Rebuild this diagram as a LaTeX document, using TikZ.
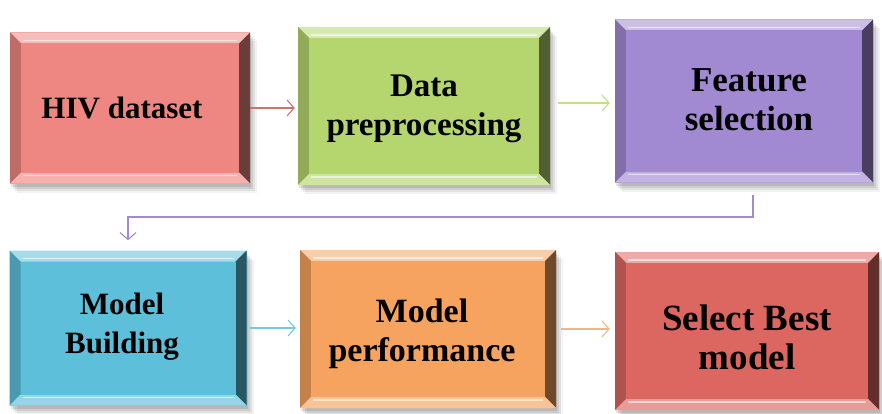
\documentclass[tikz,border=0pt]{standalone}
\usepackage{fontspec}
\setmainfont{Liberation Serif}
\usetikzlibrary{arrows.meta,calc}

\definecolor{hivred}{HTML}{EE8782}
\definecolor{prepgreen}{HTML}{B5D66E}
\definecolor{featpurple}{HTML}{A28AD2}
\definecolor{buildcyan}{HTML}{5DBFD9}
\definecolor{perforange}{HTML}{F5A35E}
\definecolor{bestred}{HTML}{DC6660}

\tikzset{
  boxtext/.style={align=center, inner sep=0pt, font=\bfseries\fontsize{#1}{39}\selectfont},
  boxtext/.default=32,
  flow/.style={line width=1.1pt, -{Straight Barb[length=7pt,width=16pt,line width=1.1pt]}}
}

% bevelled box: name, x, y, width, height, colour, bevel
\newcommand{\bevelbox}[7]{%
  \pgfmathsetmacro{\xa}{#2-#4/2}\pgfmathsetmacro{\xb}{#2+#4/2}%
  \pgfmathsetmacro{\ya}{#3-#5/2}\pgfmathsetmacro{\yb}{#3+#5/2}%
  \def\bw{#7}%
  % soft shadow
  \foreach \s/\o in {9/0.05,7/0.07,5/0.09,3/0.1}{
    \fill[black,opacity=\o] (\xa+\s-2,\ya+\s) rectangle (\xb+\s-2,\yb+\s);
  }
  \fill[#6] (\xa,\ya) rectangle (\xb,\yb);
  % bevel edges
  \fill[#6!55!white] (\xa,\ya) -- (\xb,\ya) -- (\xb-\bw,\ya+\bw) -- (\xa+\bw,\ya+\bw) -- cycle;
  \fill[#6!80!black] (\xa,\ya) -- (\xa+\bw,\ya+\bw) -- (\xa+\bw,\yb-\bw) -- (\xa,\yb) -- cycle;
  \fill[#6!45!black] (\xb,\ya) -- (\xb-\bw,\ya+\bw) -- (\xb-\bw,\yb-\bw) -- (\xb,\yb) -- cycle;
  \fill[#6!65!white] (\xa,\yb) -- (\xb,\yb) -- (\xb-\bw,\yb-\bw) -- (\xa+\bw,\yb-\bw) -- cycle;
  % face
  \fill[#6] (\xa+\bw,\ya+\bw) rectangle (\xb-\bw,\yb-\bw);
  \draw[white,opacity=0.6,line width=1.5pt] (\xa+\bw+2,\ya+\bw-3) -- (\xb-\bw-2,\ya+\bw-3);
  \draw[white,opacity=0.6,line width=1.5pt] (\xa+\bw+2,\yb-\bw+3) -- (\xb-\bw-2,\yb-\bw+3);
  \node[boxtext, minimum width=#4, minimum height=#5] (#1) at (#2,#3) {};
}

\begin{document}
\begin{tikzpicture}[x=1pt, y=-1pt]
  \useasboundingbox (0,0) rectangle (882,414);

  % top row
  \bevelbox{hiv}{130}{108}{240}{151}{hivred}{11}
  \node[boxtext=31] at ([xshift=-8pt]hiv) {HIV dataset};
  \bevelbox{prep}{424}{106}{252}{158}{prepgreen}{11}
  \node[boxtext=33] at ([yshift=-3pt]prep) {Data\\preprocessing};
  \bevelbox{feat}{744}{101}{258}{163}{featpurple}{11}
  \node[boxtext=35] at ([xshift=5pt,yshift=1pt]feat) {Feature\\selection};

  % bottom row
  \bevelbox{build}{128}{328}{237}{155}{buildcyan}{11}
  \node[boxtext=31] at ([xshift=-6pt,yshift=1pt]build) {Model\\Building};
  \bevelbox{perf}{428}{329}{256}{158}{perforange}{11}
  \node[boxtext=34] at ([xshift=-6pt,yshift=-5pt]perf) {Model\\performance};
  \bevelbox{best}{747}{331}{264}{158}{bestred}{11}
  \node[boxtext=37] at ([yshift=-6pt]best) {Select Best\\model};

  % connectors
  \coordinate (turn) at ([xshift=9pt]feat.south |- 0,217);
  \draw[flow, color=hivred!85!black, shorten >=3pt] (hiv.east) -- (hiv.east -| prep.west);
  \draw[flow, color=prepgreen!80!white, shorten <=8pt, shorten >=5pt] ([yshift=3pt]prep.east) -- ([yshift=3pt]prep.east -| feat.west);
  \draw[flow, color=featpurple, shorten <=12pt, shorten >=10pt] ([xshift=9pt]feat.south) -- (turn) -| (build.north);
  \draw[flow, color=buildcyan!85!white, shorten <=3pt, shorten >=4pt] (build.east) -- (build.east -| perf.west);
  \draw[flow, color=perforange!80!white, shorten <=5pt, shorten >=5pt] (perf.east) -- (perf.east -| best.west);
\end{tikzpicture}
\end{document}
